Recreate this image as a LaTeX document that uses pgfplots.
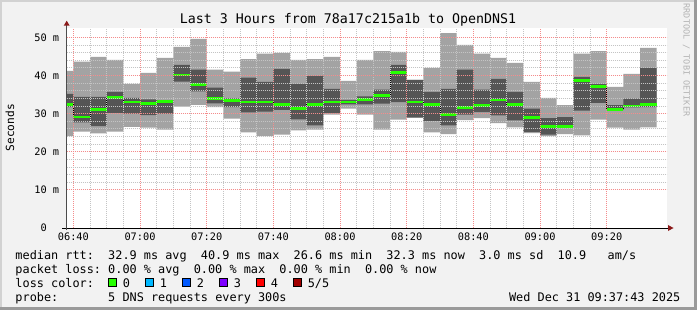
\documentclass[border=0pt]{standalone}
\usepackage{fontspec}
\setmainfont{DejaVu Sans Mono}
\usepackage{pgfplots}
\pgfplotsset{compat=1.18}
\usepgfplotslibrary{fillbetween}
\usepackage{pgfplotstable}
\usetikzlibrary{arrows.meta}
\tikzset{fill between/on layer=main}
\definecolor{bgc}{HTML}{F2F2F2}
\definecolor{smokelt}{HTML}{A3A3A3}
\definecolor{smokedk}{HTML}{555555}
\definecolor{lossa}{HTML}{26FF00}
\definecolor{lossb}{HTML}{00B8FF}
\definecolor{lossc}{HTML}{0059FF}
\definecolor{lossd}{HTML}{7E00FF}
\definecolor{losse}{HTML}{FF0000}
\definecolor{lossf}{HTML}{A10000}
\definecolor{mgridc}{RGB}{244,140,140}
\definecolor{gridc}{RGB}{196,196,196}
\definecolor{arrowred}{HTML}{8B1A1A}
\definecolor{wmark}{HTML}{B4B4B4}
\definecolor{bordlt}{HTML}{D2D2D2}
\definecolor{borddk}{HTML}{9A9A9A}

\pgfplotstableread{
x lt lb dt db med
35 41.2 24.1 35.2 31.7 32.3
40 43.6 25.3 34.4 27.7 29.1
45 44.9 24.8 34.4 26.7 31.0
50 44.1 25.3 35.7 30.2 34.3
55 37.8 26.5 34.1 30.0 33.0
60 40.7 26.3 33.7 29.6 32.7
65 44.6 25.8 33.5 30.0 33.1
70 47.5 31.8 42.8 38.4 40.1
75 49.6 32.3 41.5 35.8 37.6
80 41.5 31.7 36.8 32.7 34.0
85 41.0 28.7 34.0 31.7 33.4
90 44.3 25.1 39.4 30.3 33.0
95 45.7 24.1 38.3 30.5 33.0
100 45.9 24.5 41.7 31.0 32.3
105 44.1 25.6 37.8 28.5 31.4
110 44.3 25.8 39.9 26.9 32.3
115 44.9 29.7 36.5 30.2 33.0
120 38.6 31.3 33.6 32.4 33.0
125 44.1 29.7 34.5 32.4 33.7
130 46.4 25.8 36.3 32.6 34.7
135 46.2 28.4 42.8 33.0 40.8
140 38.9 28.9 38.8 29.0 33.0
145 42.0 25.1 35.7 28.1 32.3
150 51.1 24.6 36.5 26.9 29.8
155 48.0 28.3 41.5 29.7 31.6
160 45.7 28.8 36.3 30.4 32.1
165 44.6 27.5 39.1 29.5 33.6
170 43.3 26.4 35.7 28.2 32.3
175 38.3 24.9 31.3 25.2 29.0
180 34.1 24.1 28.8 24.5 26.7
185 32.2 24.6 29.1 26.6 26.6
190 45.7 24.3 39.6 30.8 38.6
195 46.4 28.4 37.8 32.8 37.1
200 37.0 26.3 32.2 30.9 31.1
205 40.4 25.8 33.9 31.6 32.0
210 47.2 26.4 42.0 31.7 32.3
215 47.2 26.4 42.0 31.7 32.3
}\smoke

\newcommand{\legfont}{\fontsize{11.85bp}{14bp}\selectfont}
\newcommand{\tickfont}{\fontsize{10.3bp}{12bp}\selectfont}

\begin{document}
\frenchspacing
\begin{tikzpicture}[x=1bp,y=1bp]
% background and 3D border
\fill[bgc] (0,0) rectangle (697,310);
\fill[bordlt] (0,0) rectangle (1.8,310);
\fill[bordlt] (0,308.2) rectangle (697,310);
\fill[borddk] (694,0) rectangle (697,310);
\fill[borddk] (0,0) rectangle (697,3);
\fill[white] (66.7,82) rectangle (666.7,282);

\begin{axis}[
  at={(66.7bp,82bp)}, anchor=south west,
  scale only axis, width=600bp, height=200bp,
  xmin=38, xmax=218, ymin=0, ymax=52.44,
  axis lines*=left, axis line style={draw=none},
  major tick length=0pt, minor tick length=0pt,
  xtick={40,60,...,200},
  xticklabels={06:40,07:00,07:20,07:40,08:00,08:20,08:40,09:00,09:20},
  minor x tick num=3,
  ytick={10,20,30,40,50},
  yticklabels={10~m,20~m,30~m,40~m,50~m},
  extra y ticks={0},
  extra y tick labels={0\hphantom{~m}},
  extra y tick style={grid=none},
  minor y tick num=4,
  grid=both,
  major grid style={mgridc, line width=0.8bp, dash pattern=on 1bp off 1bp},
  minor grid style={gridc, line width=0.8bp, dash pattern=on 1bp off 1bp},
  ticklabel style={font=\tickfont, inner sep=0pt},
  xticklabel style={anchor=base, yshift=-12.7bp},
  yticklabel style={anchor=east, xshift=-7.3bp},
  axis on top,
]
\addplot[name path=lt, const plot, draw=none, forget plot] table[x=x,y=lt]{\smoke};
\addplot[name path=lb, const plot, draw=none, forget plot] table[x=x,y=lb]{\smoke};
\addplot[fill=smokelt, draw=none] fill between[of=lt and lb];
\addplot[name path=dt, const plot, draw=none, forget plot] table[x=x,y=dt]{\smoke};
\addplot[name path=db, const plot, draw=none, forget plot] table[x=x,y=db]{\smoke};
\addplot[fill=smokedk, draw=none] fill between[of=dt and db];
\addplot[const plot, black, line width=0.8bp, dash pattern=on 1bp off 1bp] table[x=x,y=med]{\smoke};
\addplot[jump mark left, lossa, line width=2.7bp] table[x=x,y=med]{\smoke};
\end{axis}

% axis lines with arrows
\draw[black, line width=0.9bp] (62,82) -- (668,82);
\fill[arrowred] (668,85) -- (673.5,82) -- (668,79) -- cycle;
\draw[black!70, line width=0.9bp] (66.7,80) -- (66.7,284.5);
\fill[arrowred] (63.7,284.3) -- (66.7,289.3) -- (69.7,284.3) -- cycle;

% title and labels
\node[anchor=base, inner sep=0pt, font=\fontsize{13.3bp}{15bp}\selectfont] at (348,287) {Last~3~Hours~from~78a17c215a1b~to~OpenDNS1};
\node[rotate=90, anchor=base, inner sep=0pt, font=\fontsize{11.2bp}{13bp}\selectfont] at (14,182.2) {Seconds};
\node[rotate=-90, anchor=base, inner sep=0pt, text=wmark, font=\fontsize{8.5bp}{10bp}\selectfont] at (683.6,250) {RRDTOOL~/~TOBI~OETIKER};

% legend
\node[anchor=base west, inner sep=0pt, font=\legfont] at (15.3,51) {median~rtt:~~32.9~ms~avg~~40.9~ms~max~~26.6~ms~min~~32.3~ms~now~~3.0~ms~sd~~10.9~~~am/s};
\node[anchor=base west, inner sep=0pt, font=\legfont] at (15.3,37) {packet~loss:~0.00~\%~avg~~0.00~\%~max~~0.00~\%~min~~0.00~\%~now};
\node[anchor=base west, inner sep=0pt, font=\legfont] at (15.3,23) {loss~color:};
\node[anchor=base west, inner sep=0pt, font=\legfont] at (15.3,9) {probe:~~~~~~~5~DNS~requests~every~300s};
\node[anchor=base east, inner sep=0pt, font=\legfont] at (680.5,9) {Wed~Dec~31~09:37:43~2025};

\foreach \c/\t [count=\k from 0] in {lossa/0,lossb/1,lossc/2,lossd/3,losse/4,lossf/5\slash 5}{
  \filldraw[fill=\c, draw=black, line width=0.8bp] (108.5+37*\k,24) rectangle ++(7.8,8);
  \node[anchor=base west, inner sep=0pt, font=\legfont] at (122.6+37*\k,23) {\t};
}
\pgfresetboundingbox
\path (0,0) rectangle (697,310);
\end{tikzpicture}
\end{document}
